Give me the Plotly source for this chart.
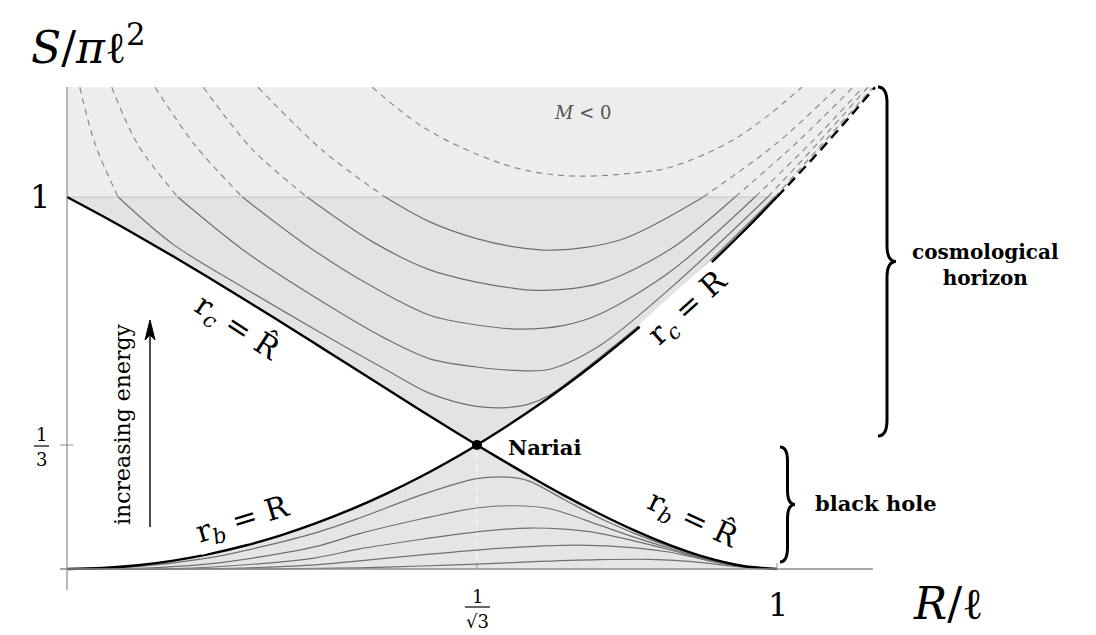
import plotly.graph_objects as go

# ---- boundary curves (R/l , S/pi l^2) ----
rb_left_R = [0, 0.05, 0.1, 0.15, 0.2, 0.25, 0.3, 0.35, 0.4, 0.45, 0.5, 0.55, 0.5774]
rb_left_S = [0, 0.0025, 0.01, 0.0225, 0.04, 0.0625, 0.09, 0.1225, 0.16, 0.2025, 0.25, 0.3025, 0.3333]

rb_right_R = [0.5774, 0.6, 0.65, 0.7, 0.75, 0.8, 0.85, 0.9, 0.95, 1.0]
rb_right_S = [0.3333, 0.3074, 0.2515, 0.198, 0.1485, 0.103, 0.0635, 0.031, 0.0087, 0]

rc_left_R = [0, 0.05, 0.1, 0.15, 0.2, 0.25, 0.3, 0.35, 0.4, 0.45, 0.5, 0.55, 0.5774]
rc_left_S = [1.0, 0.9488, 0.8953, 0.84, 0.783, 0.7247, 0.6653, 0.6052, 0.5448, 0.4843, 0.4243, 0.3652, 0.3333]

rc_right_R = [0.5774, 0.6, 0.65, 0.7, 0.75, 0.8, 0.85, 0.9, 0.95, 1.0, 1.05, 1.1, 1.138]
rc_right_S = [0.3333, 0.36, 0.4225, 0.49, 0.5625, 0.64, 0.7225, 0.81, 0.9025, 1.0, 1.1025, 1.21, 1.295]

# ---- fixed-energy curves, cosmological horizon ----
u1_R = [0.018, 0.04, 0.072, 0.15, 0.25, 0.35, 0.45, 0.511, 0.577, 0.62, 0.65, 0.68, 0.75, 0.85, 0.997, 1.134]
u1_S = [1.295, 1.14, 1.0, 0.872, 0.755, 0.643, 0.535, 0.472, 0.437, 0.434, 0.443, 0.468, 0.568, 0.728, 1.0, 1.292]
u2_R = [0.063, 0.1, 0.156, 0.25, 0.35, 0.45, 0.511, 0.577, 0.63, 0.68, 0.75, 0.85, 0.987, 1.06, 1.128]
u2_S = [1.295, 1.14, 1.0, 0.855, 0.73, 0.618, 0.565, 0.543, 0.534, 0.537, 0.6, 0.755, 1.0, 1.15, 1.295]
u3_R = [0.124, 0.18, 0.247, 0.33, 0.42, 0.511, 0.577, 0.64, 0.7, 0.75, 0.85, 0.969, 1.05, 1.121]
u3_S = [1.295, 1.14, 1.0, 0.88, 0.77, 0.682, 0.656, 0.645, 0.655, 0.685, 0.8, 1.0, 1.15, 1.295]
u4_R = [0.192, 0.26, 0.338, 0.43, 0.511, 0.577, 0.62, 0.66, 0.75, 0.85, 0.941, 1.03, 1.107]
u4_S = [1.295, 1.13, 1.0, 0.88, 0.804, 0.771, 0.757, 0.749, 0.768, 0.86, 1.0, 1.15, 1.295]
u5_R = [0.269, 0.36, 0.448, 0.511, 0.577, 0.63, 0.685, 0.78, 0.896, 1.0, 1.085]
u5_S = [1.295, 1.125, 1.0, 0.933, 0.888, 0.866, 0.857, 0.885, 1.0, 1.145, 1.295]
neg_R = [0.43, 0.5, 0.58, 0.65, 0.722, 0.8, 0.85, 0.944, 1.035]
neg_S = [1.295, 1.19, 1.113, 1.07, 1.056, 1.065, 1.08, 1.16, 1.295]

# ---- fixed-energy curves, black hole horizon ----
l1_R = [0, 0.1, 0.2, 0.27, 0.35, 0.412, 0.5, 0.577, 0.62, 0.65, 0.7, 0.75, 0.8, 0.85, 0.9, 0.95, 1.0]
l1_S = [0, 0.007, 0.03, 0.058, 0.097, 0.137, 0.2, 0.243, 0.247, 0.237, 0.187, 0.137, 0.095, 0.059, 0.029, 0.008, 0]
l2_R = [0, 0.1, 0.2, 0.27, 0.35, 0.412, 0.5, 0.577, 0.63, 0.68, 0.75, 0.8, 0.85, 0.9, 0.95, 1.0]
l2_S = [0, 0.002, 0.014, 0.032, 0.06, 0.095, 0.135, 0.164, 0.17, 0.162, 0.118, 0.085, 0.055, 0.027, 0.0075, 0]
l3_R = [0, 0.15, 0.27, 0.35, 0.412, 0.5, 0.577, 0.65, 0.7, 0.75, 0.8, 0.85, 0.9, 0.95, 1.0]
l3_S = [0, 0.001, 0.014, 0.03, 0.054, 0.08, 0.1, 0.11, 0.107, 0.096, 0.075, 0.051, 0.025, 0.007, 0]
l4_R = [0, 0.2, 0.27, 0.35, 0.412, 0.5, 0.577, 0.65, 0.72, 0.8, 0.85, 0.9, 0.95, 1.0]
l4_S = [0, 0.0005, 0.004, 0.011, 0.022, 0.038, 0.051, 0.06, 0.064, 0.057, 0.045, 0.024, 0.0065, 0]
l5_R = [0, 0.3, 0.412, 0.5, 0.577, 0.65, 0.75, 0.82, 0.88, 0.95, 1.0]
l5_S = [0, 0.0003, 0.003, 0.008, 0.013, 0.019, 0.025, 0.026, 0.02, 0.0055, 0]

nariai_R = [0.5774]
nariai_S = [0.3333]
S_TOP = 1.295

SERIF = "DejaVu Serif, Liberation Serif, serif"

# page body has an 8px margin, the figure starts at (8, 8)
OFF = 8


# page pixel -> data helpers (plot area fills the whole figure)
def X(px):
    return (px - 67) / 710.0


def Y(py):
    return (569 - py) / 372.0


fig = go.Figure()


def poly(xs, ys, color):
    fig.add_trace(go.Scatter(x=xs, y=ys, mode="lines", fill="toself", fillcolor=color,
                             line=dict(width=0), hoverinfo="skip"))


# shaded regions
top_R = [r for r, s in zip(rc_right_R, rc_right_S) if s >= 1.0]
top_S = [s for s in rc_right_S if s >= 1.0]
poly([0] + top_R + [0], [1.0] + top_S + [S_TOP], "#ededed")
lo_R = [r for r, s in zip(rc_right_R, rc_right_S) if s <= 1.0]
lo_S = [s for s in rc_right_S if s <= 1.0]
poly(rc_left_R + lo_R, rc_left_S + lo_S, "#e3e3e3")
poly(rb_left_R + rb_right_R, rb_left_S + rb_right_S, "#e5e5e5")

# faint guide at 1/sqrt(3)
fig.add_trace(go.Scatter(x=[nariai_R[0], nariai_R[0]], y=[0, nariai_S[0]], mode="lines",
                         line=dict(color="white", width=1, dash="6px,5px"), hoverinfo="skip"))

# M = 0 line
fig.add_trace(go.Scatter(x=[0, 1.0], y=[1.0, 1.0], mode="lines",
                         line=dict(color="#c4c4c4", width=1.2), hoverinfo="skip"))


def family_curve(rs, ss):
    # solid below S=1, dashed above
    segs = []
    cur = [[rs[0]], [ss[0]]]
    above = ss[0] > 1.0
    for r, s in zip(rs[1:], ss[1:]):
        cur[0].append(r)
        cur[1].append(s)
        if s == 1.0:
            segs.append((cur, above))
            cur = [[r], [s]]
            above = not above
    if len(cur[0]) > 1:
        segs.append((cur, above))
    for (xs, ys), dashed in segs:
        fig.add_trace(go.Scatter(
            x=xs, y=ys, mode="lines",
            line=dict(color="#8a8a8a" if dashed else "#6f6f6f", width=1.2,
                      dash="6px,5px" if dashed else "solid", shape="spline", smoothing=0.9),
            hoverinfo="skip"))


for rs, ss in [(u1_R, u1_S), (u2_R, u2_S), (u3_R, u3_S), (u4_R, u4_S), (u5_R, u5_S)]:
    family_curve(rs, ss)
fig.add_trace(go.Scatter(x=neg_R, y=neg_S, mode="lines", hoverinfo="skip",
                         line=dict(color="#8a8a8a", width=1.2, dash="6px,5px", shape="spline")))
for rs, ss in [(l1_R, l1_S), (l2_R, l2_S), (l3_R, l3_S), (l4_R, l4_S), (l5_R, l5_S)]:
    fig.add_trace(go.Scatter(x=rs, y=ss, mode="lines", hoverinfo="skip",
                             line=dict(color="#6f6f6f", width=1.2, shape="spline", smoothing=0.9)))

# horizon boundaries
for rs, ss in [(rb_left_R, rb_left_S), (rb_right_R, rb_right_S), (rc_left_R, rc_left_S), (lo_R, lo_S)]:
    fig.add_trace(go.Scatter(x=rs, y=ss, mode="lines", hoverinfo="skip",
                             line=dict(color="black", width=2.4, shape="spline")))
fig.add_trace(go.Scatter(x=top_R, y=top_S, mode="lines", hoverinfo="skip",
                         line=dict(color="black", width=2.4, dash="10px,6px", shape="spline")))

fig.add_trace(go.Scatter(x=nariai_R, y=nariai_S, mode="markers", hoverinfo="skip",
                         marker=dict(color="black", size=10)))

# axes
axis_col = "#8c8c8c"
shapes = [
    dict(type="line", x0=X(60), x1=X(873), y0=0, y1=0, line=dict(color=axis_col, width=1.5)),
    dict(type="line", x0=0, x1=0, y0=Y(590), y1=Y(87), line=dict(color=axis_col, width=1.2)),
    dict(type="line", x0=X(60), x1=X(73), y0=nariai_S[0], y1=nariai_S[0], line=dict(color=axis_col, width=1)),
    dict(type="line", x0=nariai_R[0], x1=nariai_R[0], y0=0, y1=Y(563), line=dict(color=axis_col, width=1)),
    dict(type="line", x0=1.0, x1=1.0, y0=0, y1=Y(563), line=dict(color=axis_col, width=1)),
    # fraction bars
    dict(type="line", x0=X(34), x1=X(49), y0=Y(446), y1=Y(446), line=dict(color="black", width=1.2)),
    dict(type="line", x0=X(465), x1=X(490), y0=Y(607), y1=Y(607), line=dict(color="black", width=1.2)),
    # energy arrow shaft
    dict(type="line", x0=X(150), x1=X(150), y0=Y(527), y1=Y(335), line=dict(color="black", width=1.4)),
    dict(type="path", path="M %f,%f L %f,%f L %f,%f L %f,%f Z" % (
        X(150), Y(320), X(145), Y(340), X(150), Y(335), X(155), Y(340)),
        line=dict(color="black", width=1), fillcolor="black"),
]


def brace(x0, yt, yb, d):
    ym = (yt + yb) / 2.0
    c = min(16, (yb - yt) / 8.0)
    xm = x0 + d / 2.0
    pts = [("M", [(x0, yt)]),
           ("Q", [(xm, yt), (xm, yt + c)]),
           ("L", [(xm, ym - c)]),
           ("Q", [(xm, ym), (x0 + d, ym)]),
           ("Q", [(xm, ym), (xm, ym + c)]),
           ("L", [(xm, yb - c)]),
           ("Q", [(xm, yb), (x0, yb)])]
    path = ""
    for cmd, ps in pts:
        path += cmd + " " + " ".join("%.5f,%.5f" % (X(px), Y(py)) for px, py in ps) + " "
    return dict(type="path", path=path.strip(), line=dict(color="black", width=3))


shapes.append(brace(878, 87, 436, 18))
shapes.append(brace(780, 447, 562, 15))

ann = []


def text(px, py, t, size, angle=0, bold=False, color="black", bg=None, xanchor="center"):
    d = dict(x=X(px), y=Y(py), text=("<b>%s</b>" % t) if bold else t, showarrow=False,
             font=dict(family=SERIF, size=size, color=color), textangle=angle,
             xanchor=xanchor, yanchor="middle")
    if bg:
        d["bgcolor"] = bg
    ann.append(d)


text(88, 44, "<i>S</i>/<i>π</i>ℓ<sup>2</sup>", 44)
text(948, 603, "<i>R</i>/ℓ", 44)
text(40, 197, "1", 32)
text(41, 434, "1", 18)
text(41, 459, "3", 18)
text(477, 596, "1", 18)
text(477, 621, "√3", 18)
text(778, 605, "1", 32)

text(237, 328, "r<sub><i>c</i></sub> = R̂", 30, angle=33, bg="white")
text(688, 308, "r<sub><i>c</i></sub> = R", 30, angle=-42, bg="white")
text(243, 520, "r<sub><i>b</i></sub> = R", 30, angle=-17, bg="white")
text(693, 520, "r<sub><i>b</i></sub> = R̂", 30, angle=25, bg="white")

text(506, 447, "Nariai", 21, bold=True, xanchor="left")
text(582, 112, "<i>M</i> &lt; 0", 18, color="#555555")
text(985, 265, "cosmological<br>horizon", 20, bold=True)
text(876, 503, "black hole", 21, bold=True)
text(122, 424, "increasing energy", 22, angle=-90)

fig.update_layout(
    width=1096, height=635,
    margin=dict(l=0, r=0, t=0, b=0),
    plot_bgcolor="white", paper_bgcolor="white",
    showlegend=False,
    xaxis=dict(range=[X(OFF), X(OFF + 1096)], visible=False),
    yaxis=dict(range=[Y(OFF + 635), Y(OFF)], visible=False),
    shapes=shapes,
    annotations=ann,
)

fig.write_html("out.html")
